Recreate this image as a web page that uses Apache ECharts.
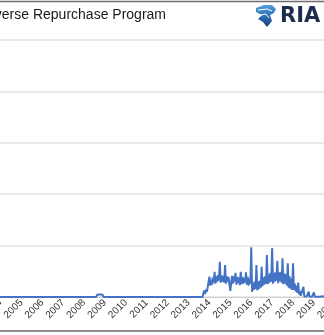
<!DOCTYPE html>
<html>
<head>
<meta charset="utf-8">
<script src="https://cdn.jsdelivr.net/npm/echarts@6/dist/echarts.min.js"></script>
<style>
  html, body { margin: 0; padding: 0; background: #fff; }
  #chart { width: 324px; height: 335px; }
</style>
</head>
<body>
<div id="chart"></div>
<script>
// Overnight reverse repo usage, $ billions.
// Early years: sparse observations [date, value].
const earlyPoints = [
  ['2003-01-02', 0], ['2007-03-15', 0], ['2007-03-30', 6], ['2007-04-15', 0],
  ['2008-02-15', 0], ['2008-02-29', 5], ['2008-03-15', 0], ['2008-08-01', 0],
  ['2008-08-15', 22], ['2008-09-30', 25], ['2008-11-15', 24], ['2008-12-10', 0],
  ['2013-01-15', 0]
];

// From 2013 on: two readings a month (the 15th and the month end).
const rrp2013 = [0, 0, 0, 0, 0, 0, 0, 0, 0, 0, 0, 0, 0, 0, 0, 0, 12, 62, 30, 70, 50, 95, 110, 198];
const rrp2014 = [110, 170, 120, 190, 140, 246, 130, 200, 150, 215, 160, 343, 140, 210, 150, 205, 140, 311, 130, 200, 150, 195, 120, 60];
const rrp2015 = [140, 205, 130, 200, 150, 235, 120, 195, 135, 190, 115, 246, 125, 195, 130, 185, 140, 240, 120, 195, 110, 180, 130, 483];
const rrp2016 = [50, 140, 70, 150, 80, 311, 65, 150, 80, 160, 90, 295, 105, 190, 120, 200, 130, 409, 125, 220, 140, 235, 150, 477];
const rrp2017 = [130, 235, 150, 240, 160, 353, 135, 240, 155, 245, 140, 377, 125, 230, 130, 220, 110, 328, 90, 200, 80, 180, 70, 328];
const rrp2018 = [70, 130, 55, 110, 40, 140, 25, 60, 12, 30, 8, 100, 5, 10, 4, 8, 3, 52, 3, 6, 2, 5, 3, 45];
const rrp2019 = [2, 4, 1, 3, 2, 18, 3, 12, 2, 8, 3, 20, 2, 4, 2, 3, 2, 6, 1, 3, 2, 4, 2, 5];
const rrp2020 = [2, 3, 1, 2, 2, 4, 1, 2, 1, 2, 1, 3, 1, 1, 1, 2, 1, 2, 1, 1, 1, 2, 1, 3];
const yearlySeries = [
  [2013, rrp2013], [2014, rrp2014], [2015, rrp2015], [2016, rrp2016],
  [2017, rrp2017], [2018, rrp2018], [2019, rrp2019], [2020, rrp2020]
];

const titleText = 'Reverse Repurchase Program';
const yearMin = 2003, yearMax = 2021;

function toYearFraction(y, m, d) {
  const start = Date.UTC(y, 0, 1);
  const end = Date.UTC(y + 1, 0, 1);
  return y + (Date.UTC(y, m, d) - start) / (end - start);
}
function parseDate(s) {
  const [y, m, d] = s.split('-').map(Number);
  return toYearFraction(y, m - 1, d);
}

const seriesData = earlyPoints.map(p => [parseDate(p[0]), p[1]]);
yearlySeries.forEach(([year, vals]) => {
  vals.forEach((v, i) => {
    const month = i >> 1;
    const day = (i % 2 === 0) ? 15 : new Date(Date.UTC(year, month + 1, 0)).getUTCDate();
    seriesData.push([toYearFraction(year, month, day), v]);
  });
});

const chart = echarts.init(document.getElementById('chart'), null, { renderer: 'canvas' });
chart.setOption({
  animation: false,
  backgroundColor: '#ffffff',
  grid: {
    left: -20.4, right: -31.8, top: 40, bottom: 38,
    containLabel: false, outerBoundsMode: 'none'
  },
  xAxis: {
    type: 'value',
    min: yearMin, max: yearMax, interval: 1,
    axisLine: { show: true, lineStyle: { color: '#cfcfcf', width: 1 } },
    axisTick: { show: false },
    splitLine: { show: false },
    axisLabel: {
      rotate: 45, margin: 4,
      color: '#333333', fontSize: 10, fontFamily: 'Liberation Sans',
      formatter: v => String(v)
    }
  },
  yAxis: {
    type: 'value',
    min: 0, max: 2500, interval: 500,
    axisLine: { show: false },
    axisTick: { show: false },
    axisLabel: { show: false },
    splitLine: { lineStyle: { color: '#e2e2e2', width: 1.5 } }
  },
  series: [{
    type: 'line',
    data: seriesData,
    showSymbol: false,
    lineStyle: { color: '#4472c4', width: 2 },
    z: 3
  }],
  graphic: [
    { type: 'line', shape: { x1: 0, y1: 1.5, x2: 324, y2: 1.5 },
      style: { stroke: '#6e6e6e', lineWidth: 1.5 } },
    { type: 'line', shape: { x1: 0, y1: 331, x2: 324, y2: 331 },
      style: { stroke: '#8c8c8c', lineWidth: 2 } },
    { type: 'text', x: 166, y: 15,
      style: { text: titleText, textAlign: 'right', textVerticalAlign: 'middle',
               font: '14px "Liberation Sans"', fill: '#1a1a1a' } },
    // eagle emblem
    { type: 'polygon',
      shape: { points: [[256, 8], [264, 5], [272, 5], [276, 9], [274, 13], [270, 15],
                        [272, 21], [267, 27], [263, 22], [258, 19], [262, 15], [256, 12]] },
      style: { fill: new echarts.graphic.LinearGradient(0, 0, 0, 1, [
        { offset: 0, color: '#4f9fe0' }, { offset: 1, color: '#123f86' }]) } },
    { type: 'polyline', shape: { points: [[258, 10], [267, 9], [272, 11]] },
      style: { stroke: '#ffffff', lineWidth: 1, fill: null } },
    { type: 'polyline', shape: { points: [[261, 15], [266, 14], [269, 18]] },
      style: { stroke: '#ffffff', lineWidth: 1, fill: null } },
    { type: 'text', x: 280, y: 16.5,
      style: { text: 'RIA', textAlign: 'left', textVerticalAlign: 'middle',
               font: 'bold 21px "DejaVu Sans"', fill: '#1c2d4f' } }
  ]
});
</script>
</body>
</html>
